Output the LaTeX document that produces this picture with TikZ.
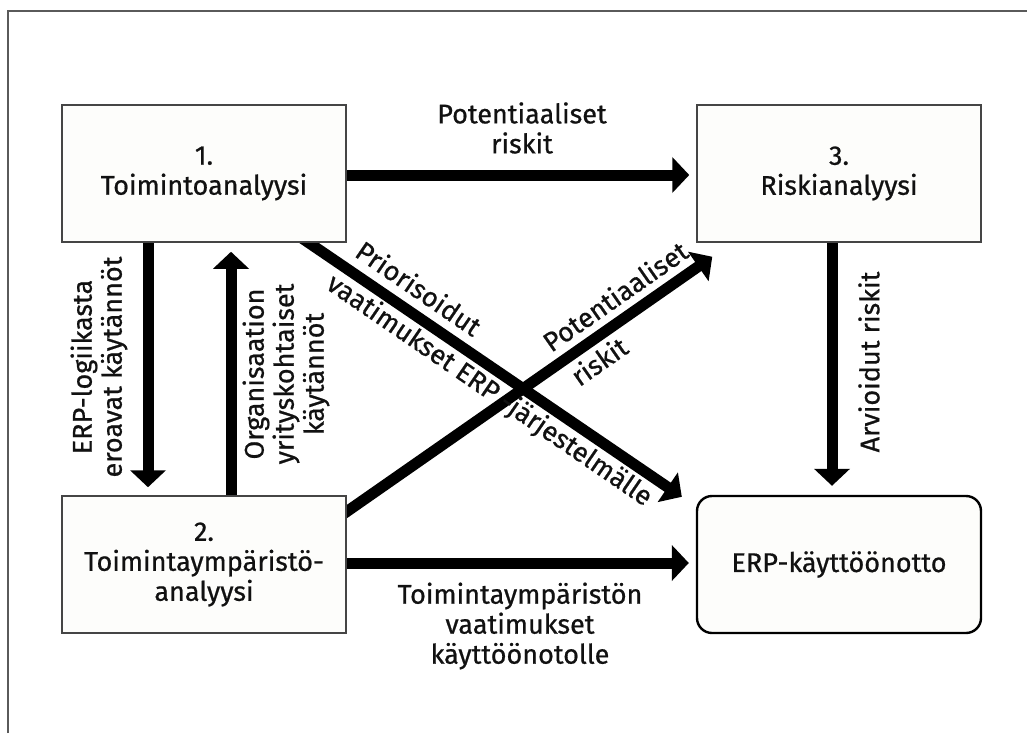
\documentclass[tikz,border=0pt]{standalone}
\usepackage{fontspec}
\setmainfont{Fira Sans}[FakeBold=0.7]
\usetikzlibrary{arrows.meta,backgrounds}
\definecolor{boxgray}{HTML}{454545}
\definecolor{framegray}{HTML}{5A5A5A}
\definecolor{boxfill}{HTML}{FDFDFB}
\definecolor{ink}{HTML}{111111}
\newcommand\lblfont{\fontsize{27}{30}\selectfont}
\begin{document}
\begin{tikzpicture}[x=1pt,y=-1pt,
  box/.style={draw=boxgray, line width=1.5pt, fill=boxfill, minimum width=284pt,
    minimum height=137pt, inner sep=0pt, align=center, font=\lblfont, text=ink},
  rbox/.style={box, draw=black, line width=2.4pt, rounded corners=15pt},
  lbl/.style={inner sep=0pt, align=center, font=\lblfont, text=ink},
  arr/.style={draw=black, line width=11pt, -{Triangle[length=17pt,width=35pt]}},
  frameline/.style={draw=framegray, line width=2pt}
]
\useasboundingbox (0,0) rectangle (1027,733);
\draw[frameline] (8,733) -- (8,11) -- (1027,11);

\node[box]  (b1) at (204,173.5) {1.\\Toimintoanalyysi};
\node[box]  (b3) at (839,173.5) {3.\\Riskianalyysi};
\node[box]  (b2) at (204,564.5) {2.\\Toimintaympäristö-\\analyysi};
\node[rbox] (b4) at (839,564.5) {ERP-käyttöönotto};

\begin{pgfonlayer}{background}
\draw[arr, shorten >=7pt] (b1.east |- 0,175) -- (b3.west |- 0,175);
\draw[arr, shorten >=8pt] (b1.south -| 148,0) -- (b2.north -| 148,0);
\draw[arr, shorten >=9pt] (b2.north -| 231,0) -- (b1.south -| 231,0);
\draw[arr, shorten >=9pt] (b3.south -| 832,0) -- (b4.north -| 832,0);
\draw[arr, shorten >=7pt] (b2.east |- 0,563) -- (b4.west |- 0,563);
\draw[arr] ([shift={(-12,-8)}]b1.south -| 309,0) -- ([shift={(-14,2)}]b4.north west);
\draw[arr] ([shift={(-12,8)}]b2.east |- 0,512) -- ([shift={(16,14)}]b3.south west);
\end{pgfonlayer}

\node[lbl] (ltop) at (522,128) {Potentiaaliset\\riskit};
\node[lbl, rotate=90] (lleft) at (99,367) {ERP-logiikasta\\eroavat käytännöt};
\node[lbl, rotate=90] (lorg) at (286,374) {Organisaation\\yrityskohtaiset\\käytännöt};
\node[lbl, rotate=90] (larv) at (869,362) {Arvioidut riskit};
\node[lbl] (lbot) at (520,626) {Toimintaympäristön\\vaatimukset\\käyttöönotolle};
\node[lbl, rotate=-34.4] (lp1) at (419,288) {Priorisoidut};
\node[lbl, rotate=-34.4] (lp2) at (489,391) {vaatimukset ERP -järjestelmälle};
\node[lbl, rotate=34.9] (lr1) at (615,296) {Potentiaaliset};
\node[lbl, rotate=34.9] (lr2) at (599,361) {riskit};
\end{tikzpicture}
\end{document}
